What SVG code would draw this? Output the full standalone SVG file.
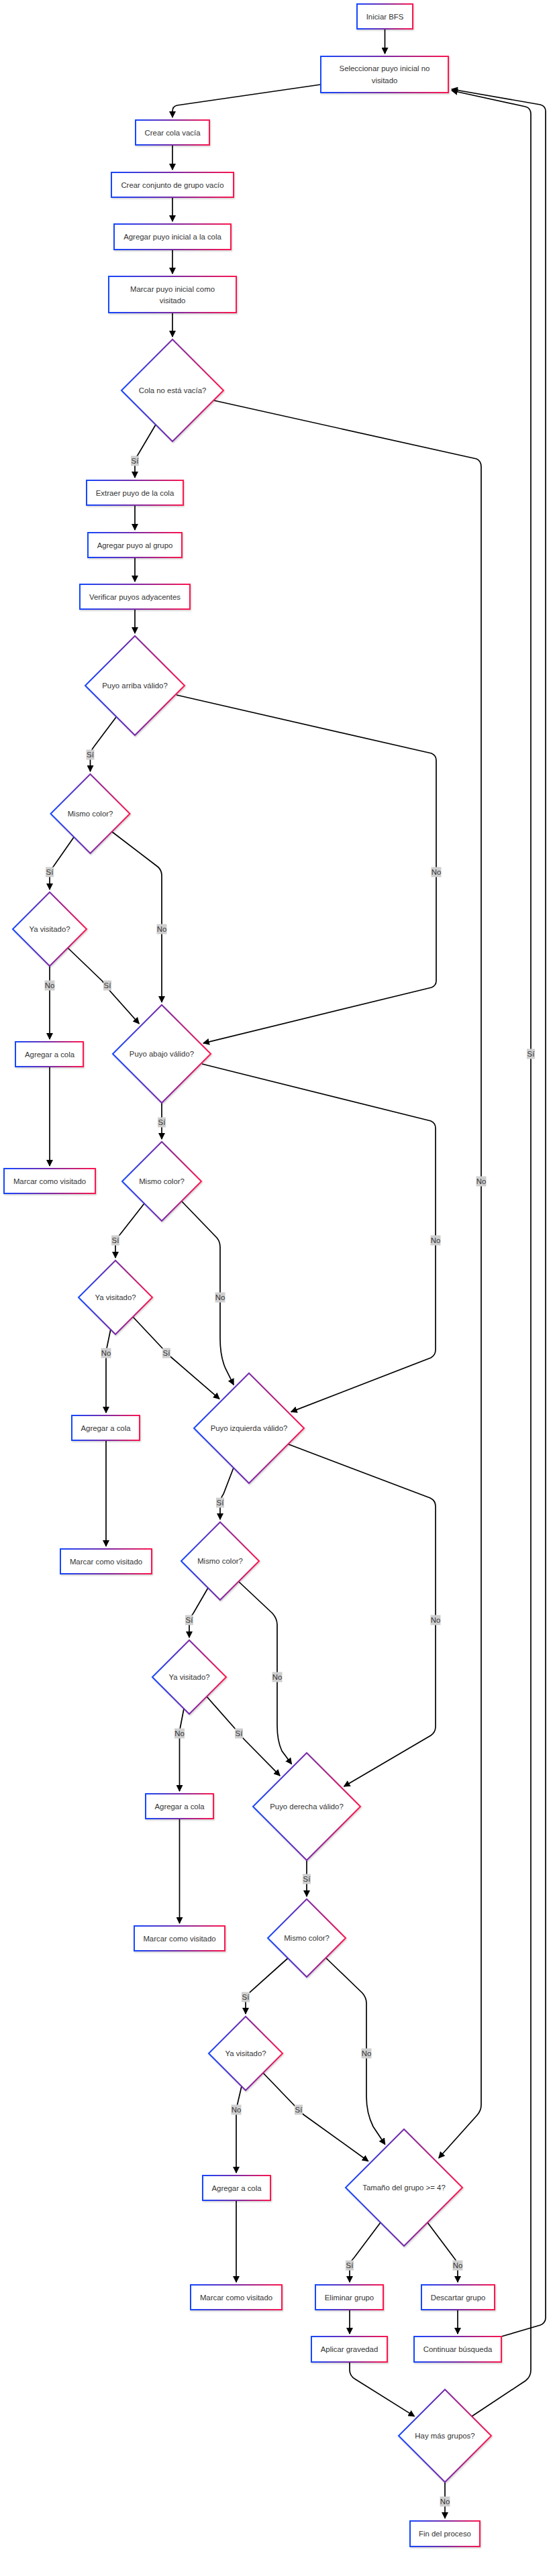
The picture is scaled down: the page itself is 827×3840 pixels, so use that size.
<svg xmlns="http://www.w3.org/2000/svg" width="827" height="3840" viewBox="0 0 827 3840">
<style>
.n{fill:#fff;stroke:url(#g);stroke-width:2;filter:url(#sh)}
.t{font-family:"Liberation Sans",Arial,sans-serif;font-size:11.4px;fill:#333;text-anchor:middle;dominant-baseline:central}
.e{fill:none;stroke:#000;stroke-width:1.7;marker-end:url(#ah)}
.lb{fill:#cfcfcf}
</style>
<defs>
<linearGradient id="g" x1="0" y1="0" x2="1" y2="0">
<stop offset="0" stop-color="#1447ff"/>
<stop offset="0.5" stop-color="#7a2aa8"/>
<stop offset="1" stop-color="#ff164e"/>
</linearGradient>
<filter id="sh" x="-20%" y="-20%" width="140%" height="140%">
<feDropShadow dx="1" dy="1.5" stdDeviation="1.2" flood-color="#000" flood-opacity="0.2"/>
</filter>
<marker id="ah" viewBox="0 0 10 10" markerUnits="userSpaceOnUse" markerWidth="10" markerHeight="10" refX="9" refY="5" orient="auto">
<path d="M0,0 L10,5 L0,10 z" fill="#000"/>
</marker>
</defs>
<rect width="827" height="3840" fill="#fff"/>
<g id="edges">
<path class="e" d="M573.5,43 L573.5,80"/>
<path class="e" d="M478,126 L264,157 Q257,158.5 257,166 L257,175"/>
<path class="e" d="M257,216 L257,253"/>
<path class="e" d="M257,294 L257,330"/>
<path class="e" d="M257,372 L257,408"/>
<path class="e" d="M257,466 L257,502"/>
<path class="e" d="M232,633 L206,677 Q201,684 201,692 L201,712"/>
<path class="e" d="M319,597 L710,684 Q717,687 717,696 L717,3138 Q717,3146 711,3153 L653.7,3217"/>
<path class="e" d="M201,753 L201,790"/>
<path class="e" d="M201,831 L201,867"/>
<path class="e" d="M201,908 L201,944"/>
<path class="e" d="M173,1069 L140,1113 Q134.5,1120 134.5,1128 L134.5,1150"/>
<path class="e" d="M263,1036 L643,1123 Q650,1126 650,1134 L650,1462 Q650,1469 643,1472 L302.9,1555.1"/>
<path class="e" d="M110,1248 L80,1291 Q74,1298 74,1306 L74,1326"/>
<path class="e" d="M167,1240 L235,1292 Q241,1297 241,1305 L241,1494"/>
<path class="e" d="M74,1440 L74,1549"/>
<path class="e" d="M101,1413 L152,1462 Q157,1468 161,1474 L207.3,1526"/>
<path class="e" d="M74,1590 L74,1738"/>
<path class="e" d="M241,1644 L241,1698"/>
<path class="e" d="M301,1586 L642,1671 Q649,1674 649,1682 L649,2012 Q649,2020 642,2024 L433.7,2104.6"/>
<path class="e" d="M215,1794 L179,1840 Q172,1847 172,1855 L172,1875"/>
<path class="e" d="M271,1791 L323,1845 Q328,1851 328,1859 L328,1995 Q328,2022 336,2040 L348.2,2064.4"/>
<path class="e" d="M165,1981 L159,2010 Q158,2014 158,2020 L158,2106"/>
<path class="e" d="M198,1963 L245,2013 Q250,2019 256,2024 L327,2085.4"/>
<path class="e" d="M158,2147 L158,2305"/>
<path class="e" d="M348,2188 L333,2227 Q328,2234 328,2242 L328,2265"/>
<path class="e" d="M430,2153 L641,2233 Q649,2237 649,2245 L649,2574 Q649,2582 642,2587 L512.5,2663"/>
<path class="e" d="M310,2367 L288,2405 Q282,2412 282,2420 L282,2441"/>
<path class="e" d="M356,2358 L406,2405 Q413,2413 413,2422 L413,2572 Q413,2595 420,2610 L434.6,2629.8"/>
<path class="e" d="M274,2547 L268,2578 Q267.5,2582 267.5,2590 L267.5,2670"/>
<path class="e" d="M308,2529 L353,2580 Q357,2586 363,2592 L417.2,2647.1"/>
<path class="e" d="M267.5,2711 L267.5,2867"/>
<path class="e" d="M457,2773 L457,2827"/>
<path class="e" d="M429,2919 L372,2970 Q366,2976 366,2984 L366,3002"/>
<path class="e" d="M486,2919 L540,2971 Q546,2978 546,2986 L546,3125 Q546,3150 556,3170 L573.8,3196.7"/>
<path class="e" d="M360,3110 L353,3140 Q352,3145 352,3150 L352,3239"/>
<path class="e" d="M392,3090 L440,3140 Q445,3146 452,3152 L548.8,3221.7"/>
<path class="e" d="M352,3280 L352,3402"/>
<path class="e" d="M567,3313 L528,3365 Q521,3372 521,3380 L521,3402"/>
<path class="e" d="M637,3313 L676,3365 Q682,3372 682,3380 L682,3402"/>
<path class="e" d="M521,3443 L521,3479"/>
<path class="e" d="M682,3443 L682,3479"/>
<path class="e" d="M521,3521 L521,3533 Q521,3542 530,3547 L617.6,3601.9"/>
<path class="e" d="M747,3483 L805,3466 Q813,3463 813,3455 L813,166 Q813,158 805,156 L673,133"/>
<path class="e" d="M703,3602 L783,3549 Q791,3543 791,3533 L791,170 Q791,161 783,159 L673,135"/>
<path class="e" d="M663,3700 L663,3754"/>
<g id="edge-labels">
<rect class="lb" x="195" y="679.5" width="12" height="15"/><text class="t" x="201" y="687">Sí</text>
<rect class="lb" x="709.5" y="1753.5" width="15" height="15"/><text class="t" x="717" y="1761">No</text>
<rect class="lb" x="128.5" y="1117.5" width="12" height="15"/><text class="t" x="134.5" y="1125">Sí</text>
<rect class="lb" x="642.5" y="1292.5" width="15" height="15"/><text class="t" x="650" y="1300">No</text>
<rect class="lb" x="68" y="1292.5" width="12" height="15"/><text class="t" x="74" y="1300">Sí</text>
<rect class="lb" x="233.5" y="1377.5" width="15" height="15"/><text class="t" x="241" y="1385">No</text>
<rect class="lb" x="66.5" y="1461.5" width="15" height="15"/><text class="t" x="74" y="1469">No</text>
<rect class="lb" x="154" y="1461.5" width="12" height="15"/><text class="t" x="160" y="1469">Sí</text>
<rect class="lb" x="235" y="1665.5" width="12" height="15"/><text class="t" x="241" y="1673">Sí</text>
<rect class="lb" x="641.5" y="1841.5" width="15" height="15"/><text class="t" x="649" y="1849">No</text>
<rect class="lb" x="166" y="1841.5" width="12" height="15"/><text class="t" x="172" y="1849">Sí</text>
<rect class="lb" x="320.5" y="1926.5" width="15" height="15"/><text class="t" x="328" y="1934">No</text>
<rect class="lb" x="150.5" y="2009.5" width="15" height="15"/><text class="t" x="158" y="2017">No</text>
<rect class="lb" x="242" y="2009.5" width="12" height="15"/><text class="t" x="248" y="2017">Sí</text>
<rect class="lb" x="322" y="2232.5" width="12" height="15"/><text class="t" x="328" y="2240">Sí</text>
<rect class="lb" x="641.5" y="2407.5" width="15" height="15"/><text class="t" x="649" y="2415">No</text>
<rect class="lb" x="276" y="2407.5" width="12" height="15"/><text class="t" x="282" y="2415">Sí</text>
<rect class="lb" x="405.5" y="2492.5" width="15" height="15"/><text class="t" x="413" y="2500">No</text>
<rect class="lb" x="260" y="2576.5" width="15" height="15"/><text class="t" x="267.5" y="2584">No</text>
<rect class="lb" x="350" y="2576.5" width="12" height="15"/><text class="t" x="356" y="2584">Sí</text>
<rect class="lb" x="451" y="2793.5" width="12" height="15"/><text class="t" x="457" y="2801">Sí</text>
<rect class="lb" x="360" y="2969.5" width="12" height="15"/><text class="t" x="366" y="2977">Sí</text>
<rect class="lb" x="538.5" y="3053.5" width="15" height="15"/><text class="t" x="546" y="3061">No</text>
<rect class="lb" x="344.5" y="3137.5" width="15" height="15"/><text class="t" x="352" y="3145">No</text>
<rect class="lb" x="439" y="3137.5" width="12" height="15"/><text class="t" x="445" y="3145">Sí</text>
<rect class="lb" x="515" y="3369.5" width="12" height="15"/><text class="t" x="521" y="3377">Sí</text>
<rect class="lb" x="674.5" y="3369.5" width="15" height="15"/><text class="t" x="682" y="3377">No</text>
<rect class="lb" x="785" y="1563.5" width="12" height="15"/><text class="t" x="791" y="1571">Sí</text>
<rect class="lb" x="655.5" y="3721.5" width="15" height="15"/><text class="t" x="663" y="3729">No</text>
</g>
</g>
<g id="A"><rect class="n" x="532" y="6" width="83" height="37"/><text class="t" x="573.5" y="24.5">Iniciar BFS</text></g>
<g id="B"><rect class="n" x="478" y="84" width="190" height="54"/><text class="t" x="573" y="102">Seleccionar puyo inicial no</text><text class="t" x="573" y="120">visitado</text></g>
<g id="C"><rect class="n" x="202" y="179" width="110" height="37"/><text class="t" x="257" y="197.5">Crear cola vacía</text></g>
<g id="D"><rect class="n" x="166" y="257" width="182" height="37"/><text class="t" x="257" y="275.5">Crear conjunto de grupo vacío</text></g>
<g id="E"><rect class="n" x="170" y="334" width="174" height="38"/><text class="t" x="257" y="353">Agregar puyo inicial a la cola</text></g>
<g id="F"><rect class="n" x="162" y="412" width="190" height="54"/><text class="t" x="257" y="430.5">Marcar puyo inicial como</text><text class="t" x="257" y="448">visitado</text></g>
<g id="G"><polygon class="n" points="257,506 333,582 257,658 181,582"/><text class="t" x="257" y="582">Cola no está vacía?</text></g>
<g id="H"><rect class="n" x="129" y="716" width="144" height="37"/><text class="t" x="201" y="734.5">Extraer puyo de la cola</text></g>
<g id="I"><rect class="n" x="131" y="794" width="140" height="37"/><text class="t" x="201" y="812.5">Agregar puyo al grupo</text></g>
<g id="J"><rect class="n" x="119" y="871" width="164" height="37"/><text class="t" x="201" y="889.5">Verificar puyos adyacentes</text></g>
<g id="K"><polygon class="n" points="201,948 275,1022 201,1096 127,1022"/><text class="t" x="201" y="1022">Puyo arriba válido?</text></g>
<g id="L"><polygon class="n" points="134.5,1154 193.5,1213 134.5,1272 75.5,1213"/><text class="t" x="134.5" y="1213">Mismo color?</text></g>
<g id="M"><polygon class="n" points="74,1330 129,1385 74,1440 19,1385"/><text class="t" x="74" y="1385">Ya visitado?</text></g>
<g id="N"><polygon class="n" points="241,1498 314,1571 241,1644 168,1571"/><text class="t" x="241" y="1571">Puyo abajo válido?</text></g>
<g id="O"><rect class="n" x="23" y="1553" width="101" height="37"/><text class="t" x="74" y="1571.5">Agregar a cola</text></g>
<g id="P"><rect class="n" x="6" y="1742" width="136" height="37"/><text class="t" x="74" y="1760.5">Marcar como visitado</text></g>
<g id="Q"><polygon class="n" points="241,1702 300,1761 241,1820 182,1761"/><text class="t" x="241" y="1761">Mismo color?</text></g>
<g id="R"><polygon class="n" points="172,1879 227,1934 172,1989 117,1934"/><text class="t" x="172" y="1934">Ya visitado?</text></g>
<g id="S"><polygon class="n" points="371,2047 453,2129 371,2211 289,2129"/><text class="t" x="371" y="2129">Puyo izquierda válido?</text></g>
<g id="T"><rect class="n" x="107" y="2110" width="101" height="37"/><text class="t" x="157.5" y="2128.5">Agregar a cola</text></g>
<g id="U"><rect class="n" x="90" y="2309" width="136" height="37"/><text class="t" x="158" y="2327.5">Marcar como visitado</text></g>
<g id="V"><polygon class="n" points="328,2269 386,2327 328,2385 270,2327"/><text class="t" x="328" y="2327">Mismo color?</text></g>
<g id="W"><polygon class="n" points="282,2445 337,2500 282,2555 227,2500"/><text class="t" x="282" y="2500">Ya visitado?</text></g>
<g id="X"><polygon class="n" points="457,2613 537,2693 457,2773 377,2693"/><text class="t" x="457" y="2693">Puyo derecha válido?</text></g>
<g id="Y"><rect class="n" x="217" y="2674" width="101" height="37"/><text class="t" x="267.5" y="2692.5">Agregar a cola</text></g>
<g id="Z"><rect class="n" x="200" y="2871" width="135" height="37"/><text class="t" x="267.5" y="2889.5">Marcar como visitado</text></g>
<g id="AA"><polygon class="n" points="457,2831 515,2889 457,2947 399,2889"/><text class="t" x="457" y="2889">Mismo color?</text></g>
<g id="AB"><polygon class="n" points="366,3006 421,3061 366,3116 311,3061"/><text class="t" x="366" y="3061">Ya visitado?</text></g>
<g id="AC"><polygon class="n" points="602,3174 689,3261 602,3348 515,3261"/><text class="t" x="602" y="3261">Tamaño del grupo &gt;= 4?</text></g>
<g id="AD"><rect class="n" x="302" y="3243" width="101" height="37"/><text class="t" x="352.5" y="3261.5">Agregar a cola</text></g>
<g id="AE"><rect class="n" x="284" y="3406" width="136" height="37"/><text class="t" x="352" y="3424.5">Marcar como visitado</text></g>
<g id="AF"><rect class="n" x="470" y="3406" width="101" height="37"/><text class="t" x="520.5" y="3424.5">Eliminar grupo</text></g>
<g id="AG"><rect class="n" x="628" y="3406" width="109" height="37"/><text class="t" x="682.5" y="3424.5">Descartar grupo</text></g>
<g id="AH"><rect class="n" x="464" y="3483" width="113" height="38"/><text class="t" x="520.5" y="3502">Aplicar gravedad</text></g>
<g id="AI"><rect class="n" x="617" y="3483" width="130" height="38"/><text class="t" x="682" y="3502">Continuar búsqueda</text></g>
<g id="AJ"><polygon class="n" points="663,3562 732,3631 663,3700 594,3631"/><text class="t" x="663" y="3631">Hay más grupos?</text></g>
<g id="AK"><rect class="n" x="611" y="3758" width="104" height="38"/><text class="t" x="663" y="3777">Fin del proceso</text></g>
</svg>
